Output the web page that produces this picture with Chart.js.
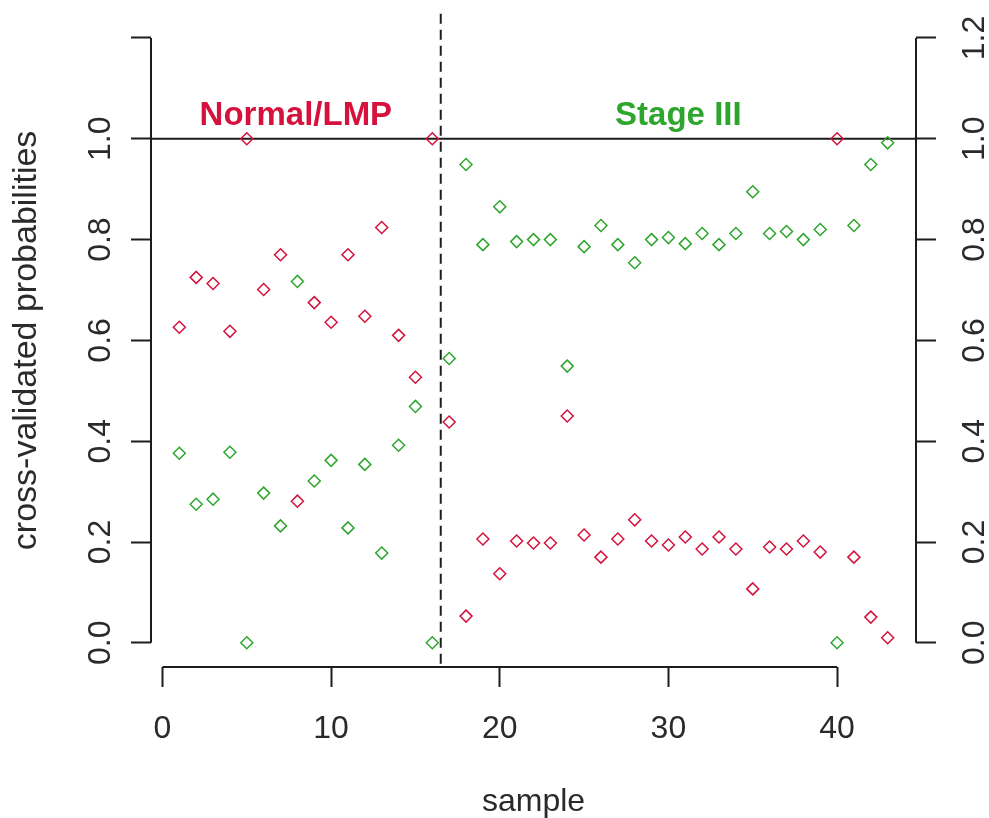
<!DOCTYPE html>
<html>
<head>
<meta charset="utf-8">
<title>cross-validated probabilities</title>
<script src="https://cdn.jsdelivr.net/npm/chart.js@4.4.1/dist/chart.umd.min.js"></script>
<style>
  html, body { margin: 0; padding: 0; background: #fff; }
  #wrap { width: 989px; height: 818px; }
</style>
</head>
<body>
<div id="wrap"><canvas id="probChart" width="989" height="818"></canvas></div>
<script>
// sample index and the two class probabilities
const samples = [1, 2, 3, 4, 5, 6, 7, 8, 9, 10, 11, 12, 13, 14, 15, 16, 17, 18, 19, 20, 21, 22,
  23, 24, 25, 26, 27, 28, 29, 30, 31, 32, 33, 34, 35, 36, 37, 38, 39, 40, 41, 42, 43];
const probNormal = [0.626, 0.725, 0.713, 0.618, 1.0, 0.701, 0.770, 0.281, 0.675, 0.636, 0.770,
  0.648, 0.824, 0.610, 0.527, 1.0, 0.438, 0.053, 0.206, 0.137, 0.202, 0.198, 0.198, 0.450,
  0.214, 0.170, 0.206, 0.244, 0.202, 0.194, 0.210, 0.186, 0.210, 0.186, 0.107, 0.190, 0.186,
  0.202, 0.180, 1.0, 0.170, 0.051, 0.010];
const probStage3 = [0.376, 0.275, 0.285, 0.378, 0.0, 0.297, 0.232, 0.717, 0.321, 0.362, 0.228,
  0.354, 0.178, 0.392, 0.469, 0.0, 0.564, 0.949, 0.790, 0.865, 0.796, 0.800, 0.800, 0.549,
  0.786, 0.828, 0.790, 0.754, 0.800, 0.804, 0.792, 0.812, 0.790, 0.812, 0.895, 0.812, 0.816,
  0.800, 0.820, 0.0, 0.828, 0.949, 0.992];

const groupNames = ['Normal/LMP', 'Stage III'];
const nNormal = 16; // first 16 samples are Normal/LMP

const xTicks = [0, 10, 20, 30, 40];
const yTicks = [0, 0.2, 0.4, 0.6, 0.8, 1.0, 1.2];
const yLabelsLeft = ['0.0', '0.2', '0.4', '0.6', '0.8', '1.0', ''];
const yLabelsRight = ['0.0', '0.2', '0.4', '0.6', '0.8', '1.0', '1.2'];

const RED = '#d4123d';
const GREEN = '#2ea62e';
const INK = '#1c1c1c';
const TEXT = '#2a2a2a';
const FONT = "'Liberation Sans', Arial, sans-serif";

function toPoints(vals) {
  return samples.map((s, i) => ({ x: s, y: vals[i] }));
}

// pin the axis box size and drop the label overflow padding
function fixBox(w, h) {
  return s => {
    if (w) s.width = w;
    if (h) s.height = h;
    s.paddingTop = 0; s.paddingBottom = 0; s.paddingLeft = 0; s.paddingRight = 0;
  };
}

// R-ish extras: axis lines only between end ticks, abline at 1, dashed divider, group titles
const rDecor = {
  id: 'rDecor',
  beforeDatasetsDraw(chart) {
    const { ctx, chartArea: a, scales: { x, y } } = chart;
    const yBottom = y.getPixelForValue(yTicks[0]);
    const yTop = y.getPixelForValue(yTicks[yTicks.length - 1]);
    const yOne = y.getPixelForValue(1);
    const split = x.getPixelForValue(nNormal + 0.5);

    ctx.save();
    ctx.strokeStyle = INK;
    ctx.lineWidth = 2;
    ctx.beginPath();
    ctx.moveTo(a.left, yBottom); ctx.lineTo(a.left, yTop);
    ctx.moveTo(a.right, yBottom); ctx.lineTo(a.right, yTop);
    ctx.moveTo(x.getPixelForValue(xTicks[0]), a.bottom);
    ctx.lineTo(x.getPixelForValue(xTicks[xTicks.length - 1]), a.bottom);
    ctx.moveTo(a.left, yOne); ctx.lineTo(a.right, yOne);
    ctx.stroke();

    ctx.setLineDash([10, 6]);
    ctx.beginPath();
    ctx.moveTo(split, a.top); ctx.lineTo(split, a.bottom);
    ctx.stroke();
    ctx.setLineDash([]);

    ctx.font = 'bold 33px ' + FONT;
    ctx.textAlign = 'center';
    ctx.textBaseline = 'alphabetic';
    ctx.fillStyle = RED;
    ctx.fillText(groupNames[0], (a.left + split) / 2, yOne - 14);
    ctx.fillStyle = GREEN;
    ctx.fillText(groupNames[1], (split + a.right) / 2, yOne - 14);
    ctx.restore();
  }
};

const tickGrid = { drawOnChartArea: false, drawTicks: true, tickLength: 20, tickWidth: 2, tickColor: INK };
const tickFont = { family: FONT, size: 32 };

new Chart(document.getElementById('probChart'), {
  type: 'scatter',
  data: {
    datasets: [
      {
        label: groupNames[0],
        data: toPoints(probNormal),
        borderColor: RED,
        backgroundColor: 'rgba(0,0,0,0)',
        pointStyle: 'rectRot',
        pointRadius: 6,
        pointHoverRadius: 6,
        pointBorderWidth: 1.5
      },
      {
        label: groupNames[1],
        data: toPoints(probStage3),
        borderColor: GREEN,
        backgroundColor: 'rgba(0,0,0,0)',
        pointStyle: 'rectRot',
        pointRadius: 6,
        pointHoverRadius: 6,
        pointBorderWidth: 1.5
      }
    ]
  },
  options: {
    responsive: false,
    animation: false,
    events: [],
    layout: { padding: { top: 13.8, left: 0, right: 0, bottom: 0 } },
    plugins: { legend: { display: false }, tooltip: { enabled: false } },
    scales: {
      x: {
        type: 'linear',
        min: -0.68,
        max: 44.68,
        afterFit: fixBox(0, 151),
        afterBuildTicks: s => { s.ticks = xTicks.map(v => ({ value: v })); },
        border: { display: false },
        grid: tickGrid,
        ticks: {
          autoSkip: false, maxRotation: 0, padding: 23, color: TEXT, font: tickFont,
          callback: (v, i) => String(xTicks[i])
        },
        title: {
          display: true, text: 'sample', color: TEXT,
          font: { family: FONT, size: 32, lineHeight: 1 }, padding: { top: 0, bottom: 0 }
        }
      },
      y: {
        type: 'linear',
        position: 'left',
        min: -0.048,
        max: 1.248,
        afterFit: fixBox(151, 0),
        afterBuildTicks: s => { s.ticks = yTicks.map(v => ({ value: v })); },
        border: { display: false },
        grid: tickGrid,
        ticks: {
          autoSkip: false, minRotation: 90, maxRotation: 90, crossAlign: 'center',
          padding: 8, color: TEXT, font: tickFont,
          callback: (v, i) => yLabelsLeft[i]
        },
        title: {
          display: true, text: 'cross-validated probabilities', color: TEXT,
          font: { family: FONT, size: 34, lineHeight: 1 }, padding: { top: 10, bottom: 0 }
        }
      },
      y2: {
        type: 'linear',
        position: 'right',
        display: true,
        min: -0.048,
        max: 1.248,
        afterFit: fixBox(73, 0),
        afterBuildTicks: s => { s.ticks = yTicks.map(v => ({ value: v })); },
        border: { display: false },
        grid: tickGrid,
        ticks: {
          autoSkip: false, minRotation: 90, maxRotation: 90, crossAlign: 'center',
          padding: 17, color: TEXT, font: tickFont,
          callback: (v, i) => yLabelsRight[i]
        }
      }
    }
  },
  plugins: [rDecor]
});
</script>
</body>
</html>
